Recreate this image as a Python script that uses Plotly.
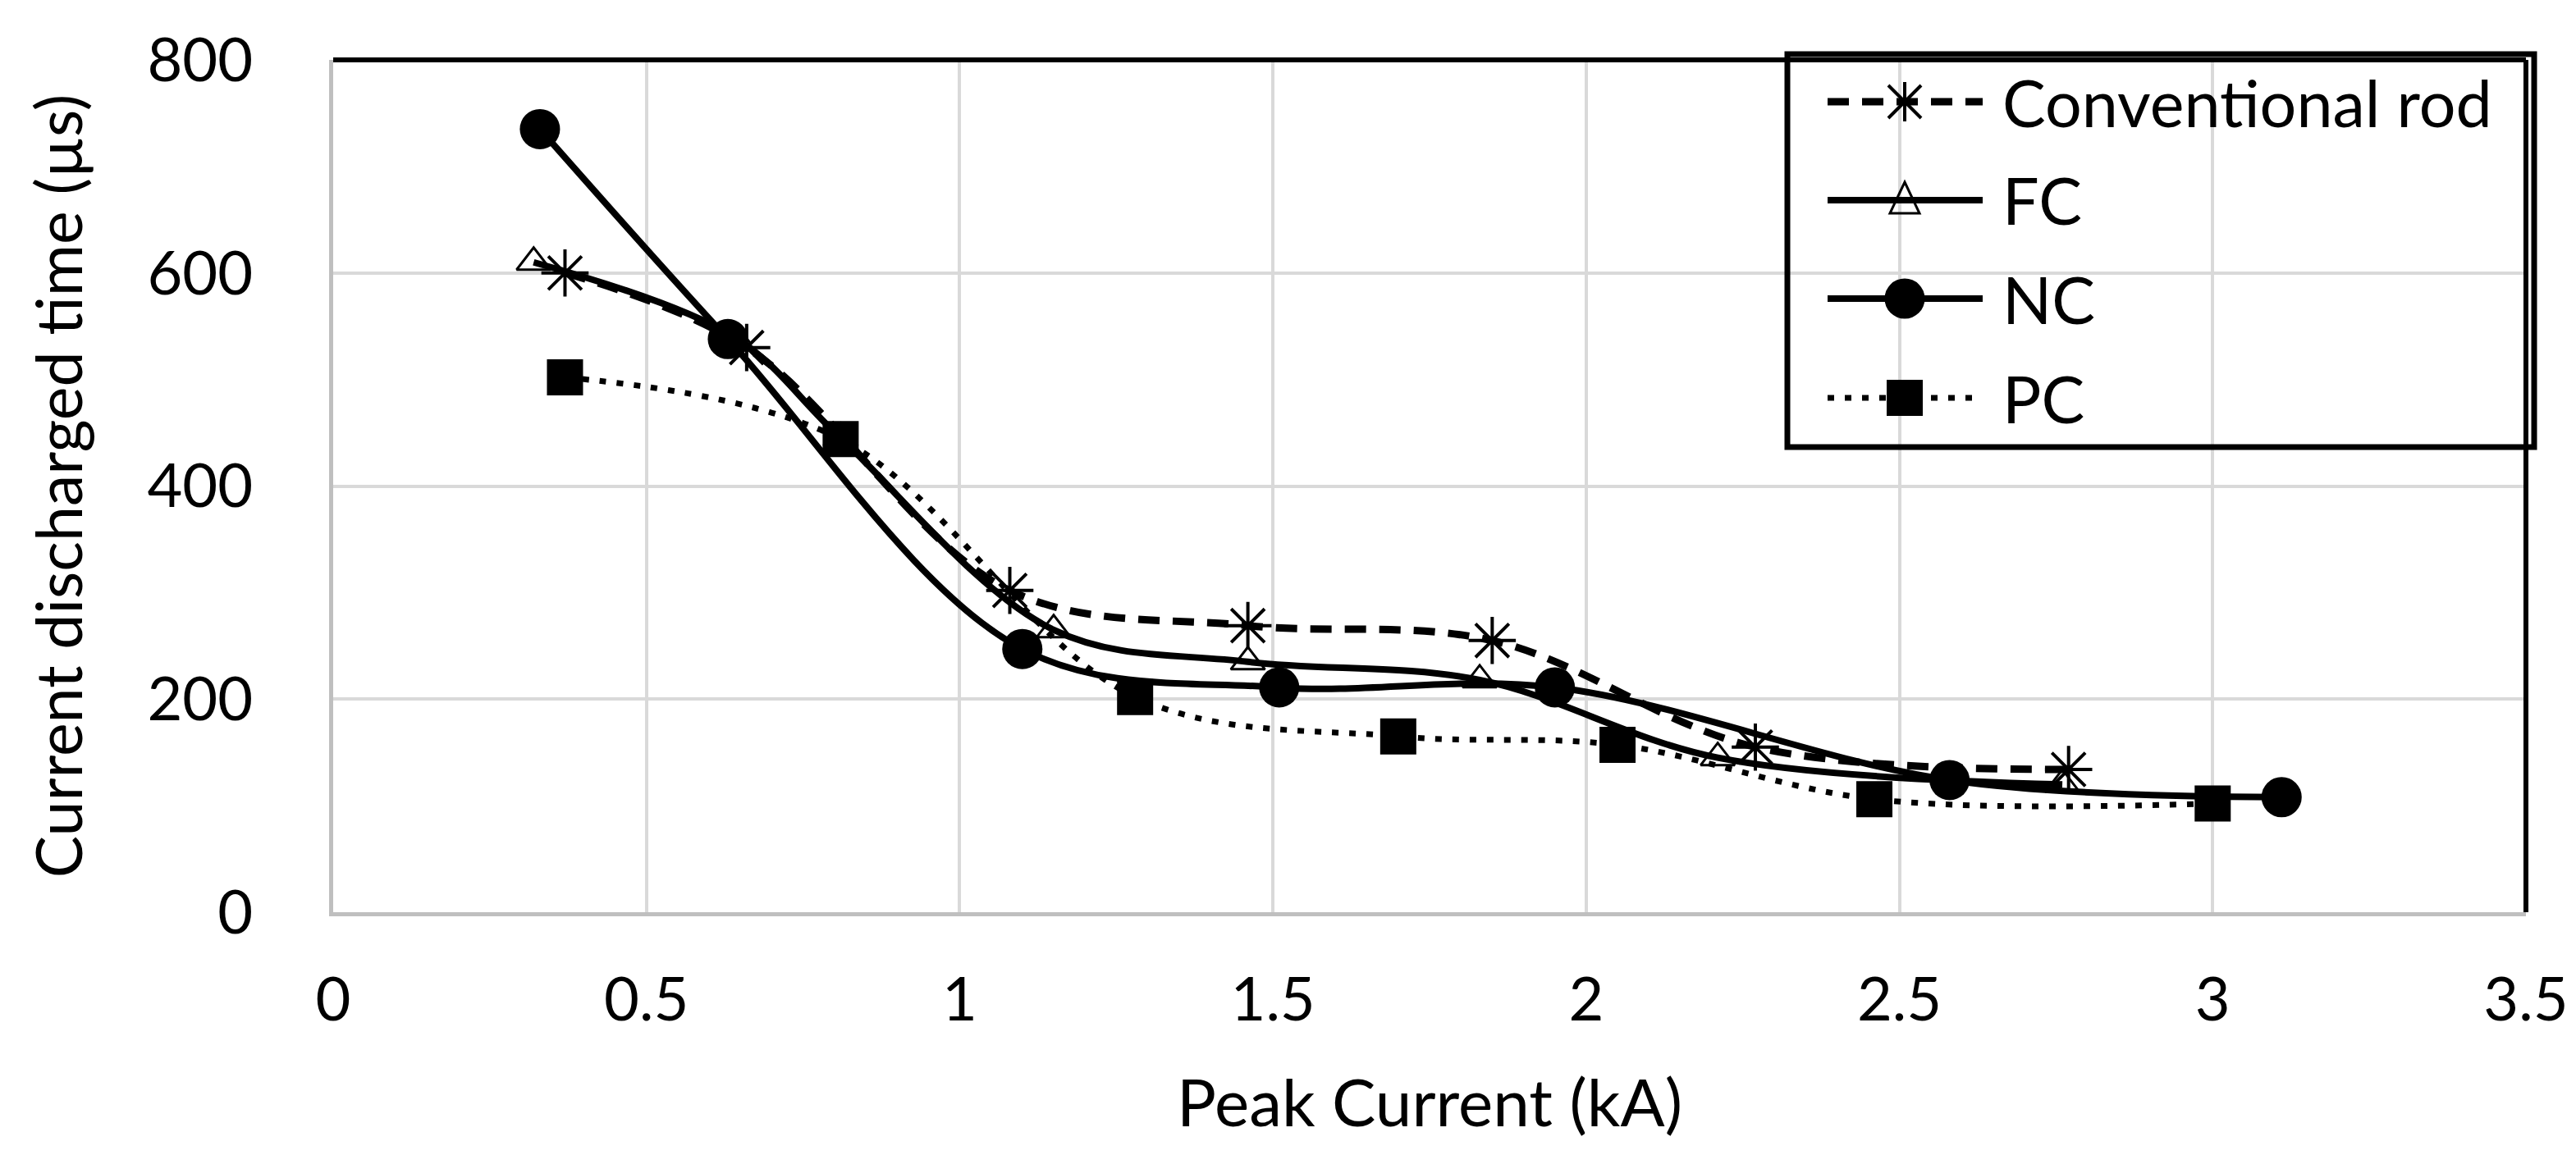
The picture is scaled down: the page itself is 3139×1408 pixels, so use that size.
import plotly.graph_objects as go

# ---------------- data ----------------
series_names = ["Conventional rod", "FC", "NC", "PC"]

conv_x = [0.37, 0.66, 1.08, 1.46, 1.85, 2.27, 2.77]
conv_y = [600, 530, 302, 269, 255, 155, 134]

fc_x = [0.32, 0.64, 0.81, 1.15, 1.46, 1.83, 2.21, 2.76]
fc_y = [610, 540, 445, 265, 235, 218, 145, 120]

nc_x = [0.33, 0.63, 1.10, 1.51, 1.95, 2.58, 3.11]
nc_y = [735, 538, 247, 211, 211, 124, 108]

pc_x = [0.37, 0.81, 1.28, 1.70, 2.05, 2.46, 3.00]
pc_y = [502, 444, 202, 165, 157, 106, 102]

x_tick_vals = [0, 0.5, 1, 1.5, 2, 2.5, 3, 3.5]
x_tick_text = ["0", "0.5", "1", "1.5", "2", "2.5", "3", "3.5"]
y_tick_vals = [0, 200, 400, 600, 800]
y_tick_text = ["0", "200", "400", "600", "800"]

x_title = "Peak Current (kA)"
y_title = "Current discharged time (µs)"

# ---------------- geometry / style ----------------
W, H = 3139, 1408
L, R, T, B = 398, 3070, 65, 1104
FONT = "Lato"
TICK_SIZE = 74
XTITLE_SIZE = 80
YTITLE_SIZE = 77
LEG_SIZE = 79
BLACK = "#000000"

styles = [
    dict(line=dict(color=BLACK, width=9, dash="26px,16px", shape="spline"),
         marker=dict(symbol="asterisk-open", size=48, color=BLACK,
                     line=dict(color=BLACK, width=4))),
    dict(line=dict(color=BLACK, width=8, shape="spline"),
         marker=dict(symbol="triangle-up-open", size=36, color=BLACK,
                     line=dict(color=BLACK, width=3))),
    dict(line=dict(color=BLACK, width=8, shape="spline"),
         marker=dict(symbol="circle", size=49, color=BLACK,
                     line=dict(color=BLACK, width=0))),
    dict(line=dict(color=BLACK, width=7, dash="8px,13px", shape="spline"),
         marker=dict(symbol="square", size=44, color=BLACK,
                     line=dict(color=BLACK, width=0))),
]

xs = [conv_x, fc_x, nc_x, pc_x]
ys = [conv_y, fc_y, nc_y, pc_y]

fig = go.Figure()
for name, x, y, st in zip(series_names, xs, ys, styles):
    fig.add_trace(go.Scatter(x=x, y=y, name=name, mode="lines+markers",
                             line=st["line"], marker=st["marker"],
                             showlegend=False))

axis_common = dict(
    showgrid=True, gridcolor="#d9d9d9", gridwidth=4,
    showline=True, linecolor="#bfbfbf", linewidth=5,
    zeroline=False, ticks="",
    tickfont=dict(family=FONT, size=TICK_SIZE, color=BLACK),
)

fig.update_layout(
    width=W, height=H,
    margin=dict(l=L, r=W - R, t=T, b=H - B, pad=0),
    paper_bgcolor="white", plot_bgcolor="white",
    font=dict(family=FONT, color=BLACK),
    showlegend=False,
    xaxis=dict(range=[0, 3.5], tickvals=x_tick_vals, ticktext=x_tick_text,
               ticklabelstandoff=38,
               title=dict(text=x_title, font=dict(family=FONT, size=XTITLE_SIZE, color=BLACK),
                          standoff=60),
               **axis_common),
    yaxis=dict(range=[0, 800], tickvals=y_tick_vals, ticktext=y_tick_text,
               ticklabelstandoff=78,
               title=dict(text=y_title, font=dict(family=FONT, size=YTITLE_SIZE, color=BLACK),
                          standoff=55),
               **axis_common),
)

# helpers pixel -> paper
def px(v):
    return (v - L) / (R - L)

def py(v):
    return (B - v) / (B - T)

shapes = []
# black top and right border of the plot area
shapes.append(dict(type="line", xref="paper", yref="paper", x0=0, x1=1, y0=1, y1=1,
                   line=dict(color=BLACK, width=6)))
shapes.append(dict(type="line", xref="paper", yref="paper", x0=1, x1=1, y0=0, y1=1,
                   line=dict(color=BLACK, width=6)))

# custom legend (transparent, black frame)
LEG_L, LEG_R, LEG_T, LEG_B = 2170, 3080, 58, 537
shapes.append(dict(type="rect", xref="paper", yref="paper",
                   x0=px(LEG_L), x1=px(LEG_R), y0=py(LEG_B), y1=py(LEG_T),
                   line=dict(color=BLACK, width=7), fillcolor="rgba(0,0,0,0)"))
row_y = [116, 236, 356, 477]
s_x0, s_x1, s_cx, txt_x = 2219, 2408, 2313, 2430
annotations = []
for i, (name, st) in enumerate(zip(series_names, styles)):
    cy = row_y[i]
    ln = st["line"]
    shapes.append(dict(type="line", xref="paper", yref="paper",
                       x0=px(s_x0), x1=px(s_x1), y0=py(cy), y1=py(cy),
                       line=dict(color=BLACK, width=ln["width"], dash=ln.get("dash", "solid"))))
    sym = st["marker"]["symbol"]
    if sym.startswith("asterisk"):
        a, d = 24, 20
        path = (f"M {px(s_cx)},{py(cy - a)} L {px(s_cx)},{py(cy + a)} "
                f"M {px(s_cx - d)},{py(cy - d)} L {px(s_cx + d)},{py(cy + d)} "
                f"M {px(s_cx - d)},{py(cy + d)} L {px(s_cx + d)},{py(cy - d)}")
        shapes.append(dict(type="path", xref="paper", yref="paper", path=path,
                           line=dict(color=BLACK, width=4)))
    elif sym.startswith("triangle"):
        path = (f"M {px(s_cx)},{py(cy - 22)} L {px(s_cx + 18)},{py(cy + 16)} "
                f"L {px(s_cx - 18)},{py(cy + 16)} Z")
        shapes.append(dict(type="path", xref="paper", yref="paper", path=path,
                           line=dict(color=BLACK, width=3), fillcolor="rgba(0,0,0,0)"))
    elif sym == "circle":
        r = 24.5
        shapes.append(dict(type="circle", xref="paper", yref="paper",
                           x0=px(s_cx - r), x1=px(s_cx + r), y0=py(cy + r), y1=py(cy - r),
                           line=dict(width=0), fillcolor=BLACK))
    else:
        r = 22
        shapes.append(dict(type="rect", xref="paper", yref="paper",
                           x0=px(s_cx - r), x1=px(s_cx + r), y0=py(cy + r), y1=py(cy - r),
                           line=dict(width=0), fillcolor=BLACK))
    annotations.append(dict(xref="paper", yref="paper", x=px(txt_x), y=py(cy),
                            xanchor="left", yanchor="middle", showarrow=False,
                            text=name, font=dict(family=FONT, size=LEG_SIZE, color=BLACK)))

fig.update_layout(shapes=shapes, annotations=annotations)

fig.write_html("out.html")
